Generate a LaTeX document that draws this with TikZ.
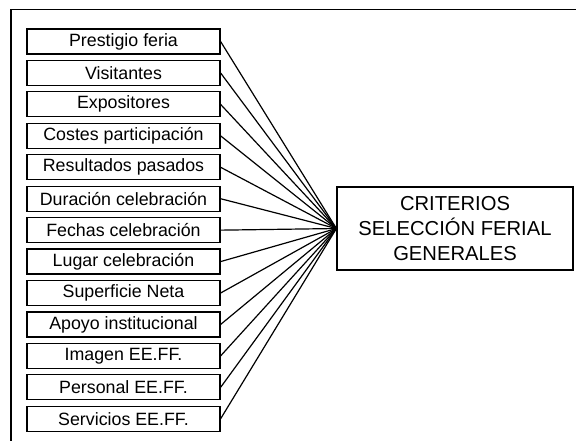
\documentclass[tikz,border=0pt]{standalone}
\usepackage{fontspec}
\setmainfont{Liberation Sans}
\usepackage{tikz}

\begin{document}
\begin{tikzpicture}[x=.5pt, y=-.5pt, line width=.6pt,
  factor/.style={draw, minimum width=96.5pt, minimum height=12.5pt, inner sep=0pt,
    font=\fontsize{8.9}{10}\selectfont},
  criterio/.style={draw, minimum width=118pt, minimum height=41.5pt, inner sep=0pt,
    align=center, font=\fontsize{10.1}{12.5}\selectfont}]
  \useasboundingbox (0,0) rectangle (576,441);
  \draw[line width=.8pt] (576,9.5) -- (11,9.5) -- (11,441);

  \node[criterio] (crit) at (455,228.5) {CRITERIOS\\SELECCIÓN FERIAL\\GENERALES};

  \foreach \txt [count=\i] in {Prestigio feria, Visitantes, Expositores,
      Costes participación, Resultados pasados, Duración celebración,
      Fechas celebración, Lugar celebración, Superficie Neta,
      Apoyo institucional, Imagen EE.FF., Personal EE.FF., Servicios EE.FF.}{
    \node[factor] (f\i) at (123.5, {41.5+31.44*(\i-1)}) {\txt};
    \draw (f\i.east) -- (crit.west);
  }
\end{tikzpicture}
\end{document}
